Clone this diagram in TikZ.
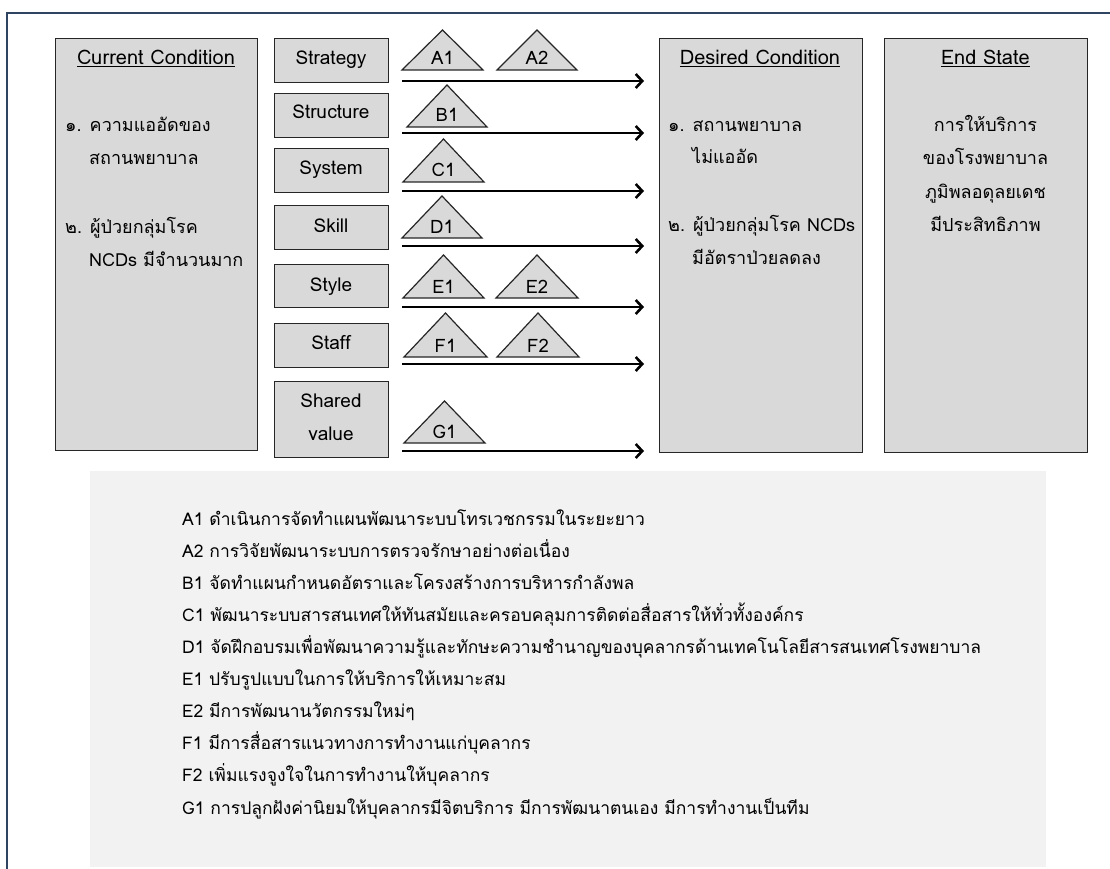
\documentclass[tikz,border=0pt]{standalone}
\usepackage{fontspec}
\setmainfont[Script=Thai]{Loma}
\usetikzlibrary{arrows.meta}
\definecolor{boxgray}{HTML}{D9D9D9}
\definecolor{panelgray}{HTML}{F2F2F2}
\definecolor{framecol}{HTML}{2E4460}
\definecolor{edgecol}{HTML}{262626}
\newcommand{\mytri}[6]{%
  \draw[tristyle] (#2,#5) -- ({(#2+#3)/2},#4) -- (#3,#5) -- cycle;
  \node[trilabel] (#1) at ({(#2+#3)/2},{#5-5}) {#6};}
\begin{document}
\begin{tikzpicture}[x=1pt,y=-1pt,
  bigbox/.style={draw=edgecol, line width=1.4pt, fill=boxgray, anchor=north west, inner sep=0pt},
  smallbox/.style={draw=edgecol, line width=1.4pt, fill=boxgray, anchor=north west, inner sep=0pt, minimum width=114pt},
  tristyle/.style={draw=edgecol, line width=1.2pt, fill=boxgray, line join=miter},
  trilabel/.style={anchor=base, font=\fontsize{18.5}{22}\selectfont, inner sep=0pt},
  boxtxt/.style={anchor=base west, font=\fontsize{18}{22}\selectfont, inner sep=0pt},
  boxctr/.style={anchor=base, font=\fontsize{18}{22}\selectfont, inner sep=0pt},
  titletxt/.style={anchor=base, font=\fontsize{20}{24}\selectfont, inner sep=0pt},
  stxt/.style={anchor=base, font=\fontsize{19}{23}\selectfont, inner sep=0pt},
  legtxt/.style={anchor=base west, font=\fontsize{17.5}{20}\selectfont, inner sep=0pt},
  flow/.style={draw=black, line width=2.6pt, -{Straight Barb[length=6.5pt,width=14pt,line width=2.6pt]}}]
\useasboundingbox (0,0) rectangle (1110,869);
% frame
\draw[framecol, line width=1.2pt] (7,869) -- (7,13) -- (1110,13);
% legend panel
\fill[panelgray] (90,471) rectangle (1046,867);
% big boxes
\node[bigbox, minimum width=202pt, minimum height=412pt] (cur) at (55,38) {};
\node[bigbox, minimum width=203pt, minimum height=414pt] (des) at (659,38) {};
\node[bigbox, minimum width=203pt, minimum height=414pt] (end) at (884,38) {};
% current condition text
\node[titletxt] (curT) at (156,65) {\underline{Current Condition}};
\node[boxtxt] (cur1) at (65,132) {๑. ความแออัดของ};
\node[boxtxt] (cur1b) at (89,165) {สถานพยาบาล};
\node[boxtxt] (cur2) at (65,233) {๒. ผู้ป่วยกลุ่มโรค};
\node[boxtxt] (cur2b) at (89,266) {NCDs มีจำนวนมาก};
% desired condition text
\node[titletxt] (desT) at (760,65) {\underline{Desired Condition}};
\node[boxtxt] (des1) at (668,132) {๑. สถานพยาบาล};
\node[boxtxt] (des1b) at (692,164) {ไม่แออัด};
\node[boxtxt] (des2) at (668,231) {๒. ผู้ป่วยกลุ่มโรค NCDs};
\node[boxtxt] (des2b) at (692,264) {มีอัตราป่วยลดลง};
% end state text
\node[titletxt] (endT) at (985.5,65) {\underline{End State}};
\node[boxctr] (end1) at (985.5,132) {การให้บริการ};
\node[boxctr] (end2) at (985.5,165) {ของโรงพยาบาล};
\node[boxctr] (end3) at (985.5,198) {ภูมิพลอดุลยเดช};
\node[boxctr] (end4) at (985.5,231) {มีประสิทธิภาพ};
% 7S boxes
\node[smallbox, minimum height=44pt] (sStrat) at (274,38) {};
\node[smallbox, minimum height=44pt] (sStruc) at (274,93) {};
\node[smallbox, minimum height=44pt] (sSys) at (274,148) {};
\node[smallbox, minimum height=44pt] (sSkill) at (274,205) {};
\node[smallbox, minimum height=43pt] (sStyle) at (274,264) {};
\node[smallbox, minimum height=44pt] (sStaff) at (274,323) {};
\node[smallbox, minimum height=76pt] (sShared) at (274,381) {};
\node[stxt] (tStrat) at (331,65) {Strategy};
\node[stxt] (tStruc) at (331,119) {Structure};
\node[stxt] (tSys) at (331,175) {System};
\node[stxt] (tSkill) at (331,232) {Skill};
\node[stxt] (tStyle) at (331,291) {Style};
\node[stxt] (tStaff) at (331,349) {Staff};
\node[stxt] (tShared) at (331,407) {Shared};
\node[stxt] (tValue) at (331,440) {value};
% arrows
\foreach \n/\y in {1/81,2/133,3/191,4/246,5/307,6/364,7/451}{
  \coordinate (as\n) at (402,\y);
  \coordinate (ae\n) at (644,\y);
  \draw[flow] (as\n) -- (ae\n);
}
% triangles
\mytri{A1}{402}{483}{30}{70}{A1}
\mytri{A2}{497}{577}{30}{70}{A2}
\mytri{B1}{407}{487}{85}{127}{B1}
\mytri{C1}{403}{484}{139}{182}{C1}
\mytri{D1}{402}{482}{196}{238}{D1}
\mytri{E1}{403}{484}{255}{298}{E1}
\mytri{E2}{496}{578}{255}{298}{E2}
\mytri{F1}{404}{487}{313}{357}{F1}
\mytri{F2}{497}{579}{313}{357}{F2}
\mytri{G1}{404}{485}{401}{443}{G1}
% legend
\node[legtxt] (L1) at (182,525) {A1 ดำเนินการจัดทำแผนพัฒนาระบบโทรเวชกรรมในระยะยาว};
\node[legtxt] (L2) at (182,557) {A2 การวิจัยพัฒนาระบบการตรวจรักษาอย่างต่อเนื่อง};
\node[legtxt] (L3) at (182,589) {B1 จัดทำแผนกำหนดอัตราและโครงสร้างการบริหารกำลังพล};
\node[legtxt] (L4) at (182,621) {C1 พัฒนาระบบสารสนเทศให้ทันสมัยและครอบคลุมการติดต่อสื่อสารให้ทั่วทั้งองค์กร};
\node[legtxt] (L5) at (182,653) {D1 จัดฝึกอบรมเพื่อพัฒนาความรู้และทักษะความชำนาญของบุคลากรด้านเทคโนโลยีสารสนเทศโรงพยาบาล};
\node[legtxt] (L6) at (182,685) {E1 ปรับรูปแบบในการให้บริการให้เหมาะสม};
\node[legtxt] (L7) at (182,717) {E2 มีการพัฒนานวัตกรรมใหม่ๆ};
\node[legtxt] (L8) at (182,749) {F1 มีการสื่อสารแนวทางการทำงานแก่บุคลากร};
\node[legtxt] (L9) at (182,781) {F2 เพิ่มแรงจูงใจในการทำงานให้บุคลากร};
\node[legtxt] (L10) at (182,814) {G1 การปลูกฝังค่านิยมให้บุคลากรมีจิตบริการ มีการพัฒนาตนเอง มีการทำงานเป็นทีม};
\end{tikzpicture}
\end{document}
